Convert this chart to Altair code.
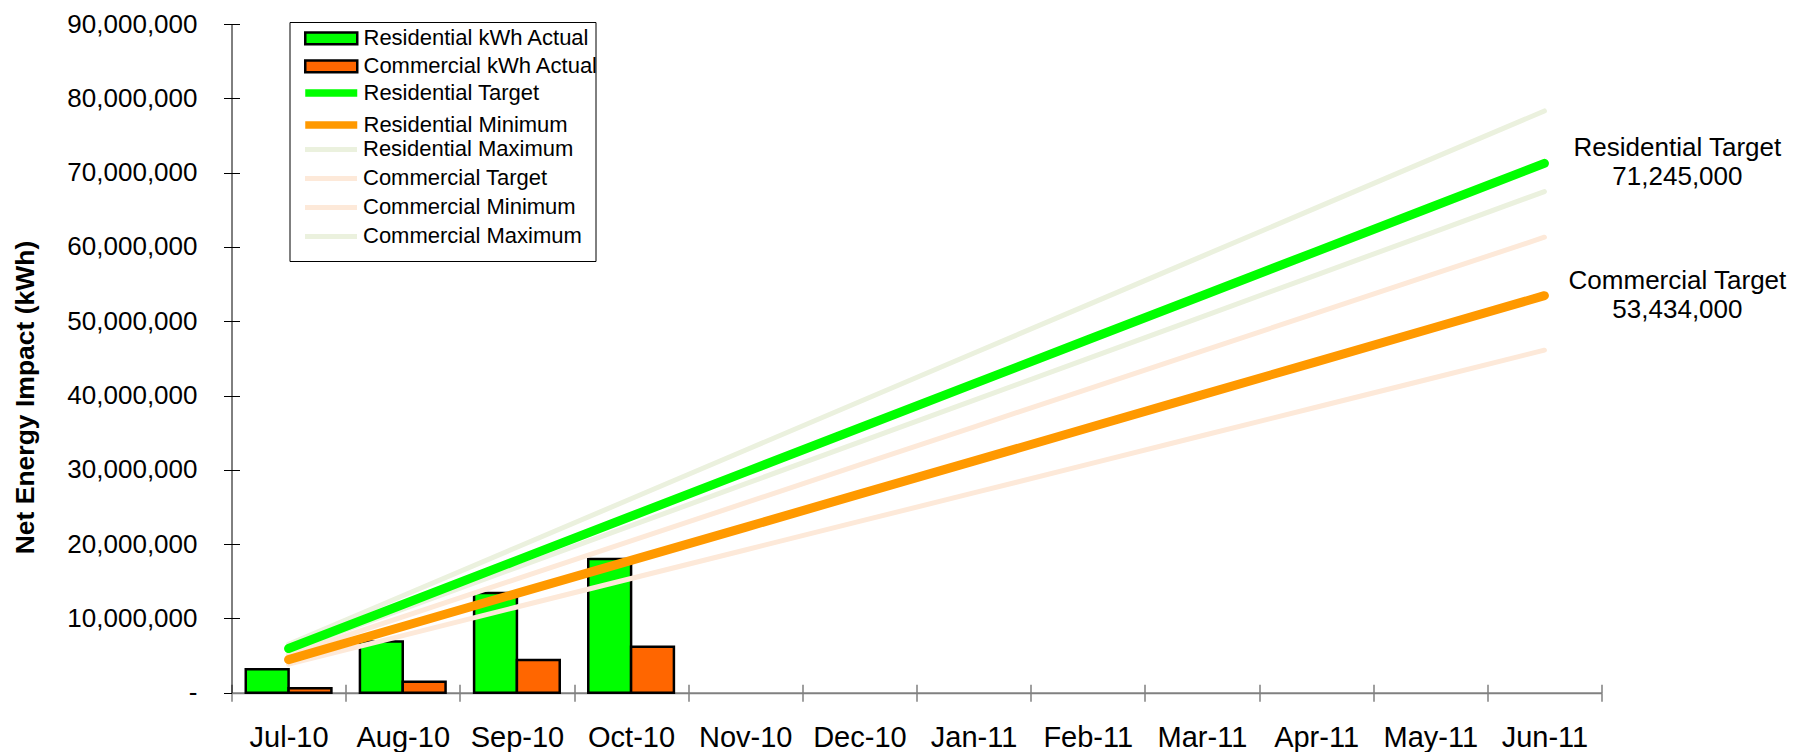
import altair as alt
import pandas as pd

months = ["Jul-10", "Aug-10", "Sep-10", "Oct-10", "Nov-10", "Dec-10",
          "Jan-11", "Feb-11", "Mar-11", "Apr-11", "May-11", "Jun-11"]
actual_months = ["Jul-10", "Aug-10", "Sep-10", "Oct-10"]

bar_series = ["Residential kWh Actual", "Commercial kWh Actual"]
bar_colors = ["#00FF00", "#FF6600"]
residential_actual = [3140000, 6900000, 13420000, 17980000]
commercial_actual = [600000, 1460000, 4390000, 6170000]

thick_series = ["Residential Target", "Residential Minimum"]
thick_colors = ["#00FF00", "#FF9900"]
light_series = ["Residential Maximum", "Commercial Target",
                "Commercial Minimum", "Commercial Maximum"]
light_colors = ["#EBF1DE", "#FDE9D9", "#FDE9D9", "#EBF1DE"]

residential_target = [5940000, 11870000, 17810000, 23750000, 29690000, 35620000,
                      41560000, 47500000, 53430000, 59370000, 65310000, 71245000]
residential_minimum = [4450000, 8910000, 13360000, 17810000, 22260000, 26720000,
                       31170000, 35620000, 40080000, 44530000, 48980000, 53434000]
residential_maximum = [6530000, 13050000, 19580000, 26100000, 32630000, 39150000,
                       45680000, 52200000, 58730000, 65250000, 71780000, 78300000]
commercial_target = [5110000, 10220000, 15330000, 20430000, 25540000, 30650000,
                     35760000, 40870000, 45980000, 51080000, 56190000, 61300000]
commercial_minimum = [3840000, 7680000, 11530000, 15370000, 19210000, 23050000,
                      26890000, 30730000, 34580000, 38420000, 42260000, 46100000]
commercial_maximum = [5620000, 11240000, 16860000, 22480000, 28100000, 33730000,
                      39350000, 44970000, 50590000, 56210000, 61830000, 67450000]

end_labels = ["Residential Target", "Commercial Target"]

y_ticks = [0, 10000000, 20000000, 30000000, 40000000, 50000000,
           60000000, 70000000, 80000000, 90000000]

FONT = "Liberation Sans"
NBSP = "\u00a0"
PLOT_H = 668.7

# ---------- data tables ----------
bar_df = pd.DataFrame({
    "month": actual_months * 2,
    "bar_series": [bar_series[0]] * 4 + [bar_series[1]] * 4,
    "value": residential_actual + commercial_actual,
})

series_values = {
    "Residential Target": residential_target,
    "Residential Minimum": residential_minimum,
    "Residential Maximum": residential_maximum,
    "Commercial Target": commercial_target,
    "Commercial Minimum": commercial_minimum,
    "Commercial Maximum": commercial_maximum,
}


def long_table(names):
    rows = []
    for s in names:
        for m, v in zip(months, series_values[s]):
            rows.append({"month": m, "line_series": s, "value": v})
    return pd.DataFrame(rows)


thick_df = long_table(thick_series)
light_df = long_table(light_series)

end_values = [residential_target[-1], residential_minimum[-1]]
text_df = pd.DataFrame({
    "month": [months[-1]] * 2,
    "value": end_values,
    "label": [f"{l}\n{v:,}" for l, v in zip(end_labels, end_values)],
})

# ---------- shared encodings ----------
x_axis = alt.Axis(
    title=None, labelAngle=0, labelFontSize=29, labelFont=FONT, labelColor="black",
    labelPadding=44.8, labelBaseline="alphabetic",
    tickBand="extent", tickSize=8.5, tickColor="#808080", tickWidth=1.5,
    domainColor="#808080", domainWidth=2,
    grid=True, gridColor="#808080", gridWidth=1.5,
    gridDash=[0, PLOT_H - 8.5, 8.5, 3000],
)
y_axis = alt.Axis(
    values=y_ticks,
    labelExpr="datum.value == 0 ? '-\u00a0\u00a0' : format(datum.value, ',')",
    labelFontSize=26, labelFont=FONT, labelColor="black", labelPadding=26.5,
    tickSize=8, tickColor="black", tickWidth=1,
    domainColor="black", domainWidth=1,
    grid=True, gridColor="black", gridWidth=1, gridDash=[8, 3000],
    title="Net Energy Impact (kWh)", titleFont=FONT, titleFontSize=26.5,
    titleFontWeight="bold", titleColor="black",
    titleX=-206.5, titleY=373, titleAngle=-90,
    titleAlign="center", titleBaseline="middle",
)
x_enc = alt.X("month:N", sort=months,
              scale=alt.Scale(domain=months, paddingInner=0, paddingOuter=0),
              axis=x_axis)
y_enc = alt.Y("value:Q", scale=alt.Scale(domain=[0, 90000000], nice=False),
              axis=y_axis)

common_legend = dict(
    orient="none", symbolSize=676,
    labelFontSize=22, labelFont=FONT, labelColor="black", labelLimit=400,
)
bar_legend = alt.Legend(
    legendX=72.25, legendY=-0.2, title=None, padding=0, rowPadding=2,
    labelOffset=30.75,
    symbolType="M-1,-0.45L3,-0.45L3,0.45L-1,0.45Z",
    symbolStrokeColor="black", symbolStrokeWidth=2.5,
    **common_legend,
)
thick_legend = alt.Legend(
    legendX=69.75, legendY=52, title=None, padding=0, rowPadding=0,
    labelOffset=28.25,
    symbolType="M-1,0L3,0", symbolStrokeWidth=7.5,
    **common_legend,
)
light_legend = alt.Legend(
    legendX=58, legendY=-2, padding=13, strokeColor="black", rowPadding=2,
    labelOffset=29.5,
    title=[NBSP * 53, NBSP, NBSP, NBSP], titleFontSize=22, titleLineHeight=25.3,
    titlePadding=1, titleFont=FONT, titleLimit=500,
    symbolType="M-1,0L3,0", symbolStrokeWidth=5,
    **common_legend,
)

bars = alt.Chart(bar_df).mark_bar(stroke="black", strokeWidth=2.5).encode(
    x=x_enc,
    xOffset=alt.XOffset("bar_series:N", sort=bar_series,
                        scale=alt.Scale(domain=bar_series, paddingOuter=0.333,
                                        paddingInner=0)),
    y=y_enc,
    fill=alt.Fill("bar_series:N", scale=alt.Scale(domain=bar_series, range=bar_colors),
                  legend=bar_legend),
)

light_lines = alt.Chart(light_df).mark_line(
    strokeCap="round", strokeJoin="round", strokeWidth=5
).encode(
    x=x_enc, y=y_enc,
    color=alt.Color("line_series:N",
                    scale=alt.Scale(domain=light_series, range=light_colors),
                    legend=light_legend),
)
thick_lines = alt.Chart(thick_df).mark_line(
    strokeCap="round", strokeJoin="round", strokeWidth=9
).encode(
    x=x_enc, y=y_enc,
    stroke=alt.Stroke("line_series:N",
                      scale=alt.Scale(domain=thick_series, range=thick_colors),
                      legend=thick_legend),
)

labels = alt.Chart(text_df).mark_text(
    dx=133, dy=-15, align="center", baseline="middle", fontSize=26, font=FONT,
    color="black", lineBreak="\n", lineHeight=29,
).encode(x=x_enc, y=y_enc, text="label:N")

chart = alt.layer(bars, light_lines, thick_lines, labels).properties(
    width=1370, height=PLOT_H,
    padding={"left": 223.5, "top": 16, "right": 200, "bottom": 59.3},
    autosize=alt.AutoSizeParams(type="none"),
).configure(font=FONT).configure_view(strokeWidth=0)

chart.save("out.html", embed_options={"renderer": "svg", "actions": False})
